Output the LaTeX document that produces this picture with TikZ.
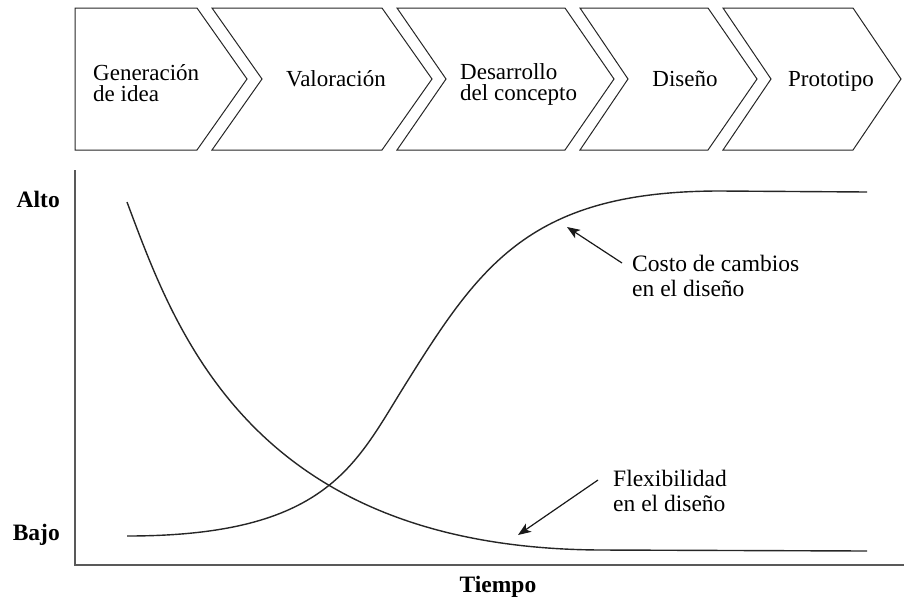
\documentclass[tikz,border=0pt]{standalone}
\usepackage{fontspec}
\setmainfont{Liberation Serif}
\usetikzlibrary{arrows.meta}

\begin{document}
\begin{tikzpicture}[x=1pt,y=-1pt]
	\tikzstyle{chevron} = [draw=black!85,line width=1pt,line join=miter]
	\tikzstyle{stage} = [inner sep=0,align=left,font=\fontsize{23}{21}\selectfont]
	\tikzstyle{note} = [inner sep=0,align=left,font=\fontsize{23.5}{25.5}\selectfont]
	\tikzstyle{level} = [inner sep=0,font=\fontsize{23.5}{26}\selectfont\bfseries]
	\tikzstyle{axis} = [draw=black!65,line width=2pt]
	\tikzstyle{curve} = [draw=black!85,line width=1.4pt]
	\tikzstyle{pointer} = [draw=black!90,line width=1.2pt,-{Stealth[length=13pt,width=10pt,inset=3.5pt]}]
	\useasboundingbox (0,0) rectangle (904,600);
	% phases
	\draw[chevron] (75,8) -- (197,8) -- (247,79) -- (197,150) -- (75,150) -- cycle;
	\draw[chevron] (212,8) -- (382,8) -- (432,79) -- (382,150) -- (212,150) -- (262,79) -- cycle;
	\draw[chevron] (397,8) -- (565,8) -- (614,79) -- (565,150) -- (397,150) -- (446,79) -- cycle;
	\draw[chevron] (580,8) -- (708,8) -- (757,79) -- (708,150) -- (580,150) -- (628,79) -- cycle;
	\draw[chevron] (723,8) -- (853,8) -- (901,79) -- (853,150) -- (723,150) -- (771,79) -- cycle;
	\node[stage,anchor=west] (idea) at (93,83) {Generación\\de idea};
	\node[stage,anchor=base] (valor) at (336,86) {Valoración};
	\node[stage,anchor=west] (concept) at (460,84) {Desarrollo\\del concepto};
	\node[stage,anchor=base] (design) at (685,86) {Diseño};
	\node[stage,anchor=base] (proto) at (831,86) {Prototipo};
	% axes
	\coordinate (ytop) at (75,170);
	\coordinate (origin) at (75,565);
	\coordinate (xend) at (904,565);
	\draw[axis] (ytop) -- (origin) -- (xend);
	\node[level,anchor=base east] (high) at (60,207) {Alto};
	\node[level,anchor=base east] (low) at (60,540) {Bajo};
	\node[level,anchor=base] (time) at (498,592) {Tiempo};
	% curves
	\draw[curve] (127,536) .. controls (327,536) and (355,465) .. (405,385)
		.. controls (480,265) and (530,191) .. (720,191) -- (867,192);
	\draw[curve] (127,202) .. controls (175,330) and (250,548) .. (600,550) -- (867,551);
	% labels
	\node[note,anchor=west] (costlbl) at (632,276) {Costo de cambios\\en el diseño};
	\node[note,anchor=west] (flexlbl) at (613,491) {Flexibilidad\\en el diseño};
	\coordinate (costtail) at (622,263);
	\coordinate (costtip) at (567,227);
	\coordinate (flextail) at (598,480);
	\coordinate (flextip) at (518,535);
	\draw[pointer] (costtail) -- (costtip);
	\draw[pointer] (flextail) -- (flextip);
\end{tikzpicture}
\end{document}
